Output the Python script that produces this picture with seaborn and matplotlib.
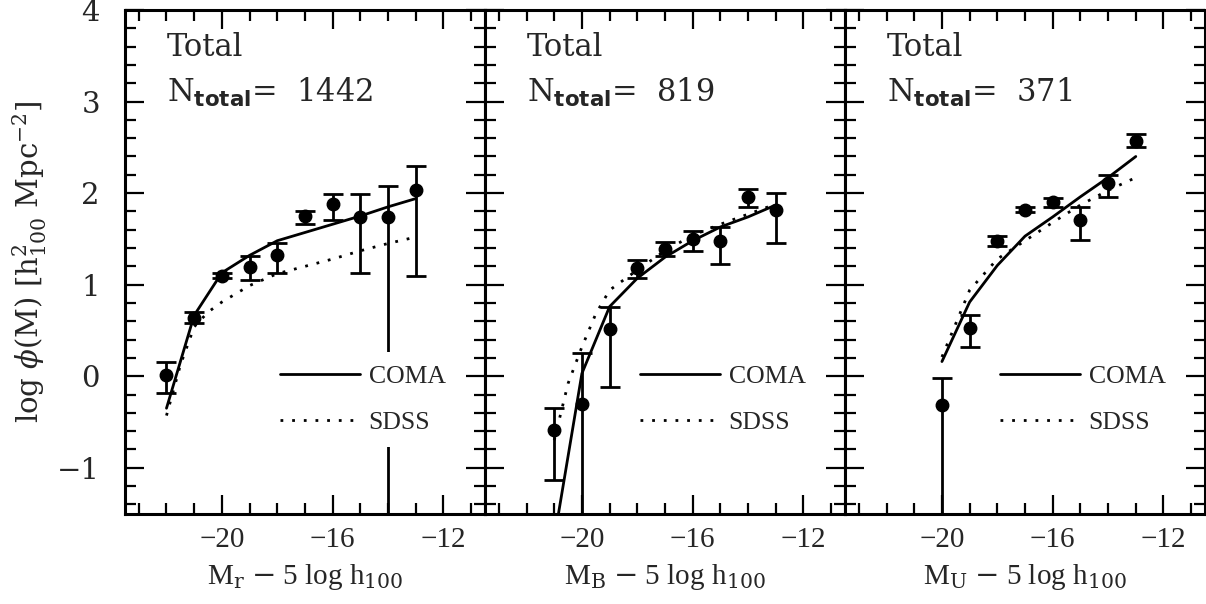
import numpy as np
import pandas as pd
import matplotlib
matplotlib.use("Agg")
import matplotlib.pyplot as plt
from matplotlib.ticker import MultipleLocator
import seaborn as sns

# --- data ---
# r band
mag_r = [-22, -21, -20, -19, -18, -17, -16, -15, -14, -13]
phi_r = [0.01, 0.64, 1.10, 1.19, 1.32, 1.745, 1.876, 1.74, 1.74, 2.03]
hi_r = [0.15, 0.70, 1.13, 1.31, 1.45, 1.81, 1.99, 1.99, 2.08, 2.30]
lo_r = [-0.18, 0.58, 1.07, 1.05, 1.13, 1.66, 1.71, 1.13, -3.0, 1.10]
coma_x_r = [-22, -21, -20, -19, -18, -17, -16, -15, -14, -13]
coma_r = [-0.35, 0.665, 1.13, 1.32, 1.48, 1.57, 1.66, 1.75, 1.85, 1.94]
sdss_x_r = [-22, -21.5, -21, -20.5, -20, -19, -18, -17, -16, -15, -14, -13]
sdss_r = [-0.43, 0.12, 0.54, 0.70, 0.81, 0.99, 1.12, 1.20, 1.28, 1.37, 1.45, 1.52]

# B band
mag_b = [-21, -20, -19, -18, -17, -16, -15, -14, -13]
phi_b = [-0.59, -0.30, 0.52, 1.18, 1.39, 1.50, 1.48, 1.96, 1.82]
hi_b = [-0.35, 0.25, 0.76, 1.27, 1.47, 1.59, 1.63, 2.05, 2.00]
lo_b = [-1.13, -3.0, -0.12, 1.07, 1.31, 1.37, 1.23, 1.85, 1.45]
coma_x_b = [-21, -20, -19, -18, -17, -16, -15, -14, -13]
coma_b = [-1.78, 0.03, 0.76, 1.07, 1.30, 1.48, 1.63, 1.74, 1.87]
sdss_x_b = [-21, -20.5, -20, -19.5, -19, -18, -17, -16, -15, -14, -13]
sdss_b = [-0.70, -0.08, 0.32, 0.68, 0.94, 1.16, 1.37, 1.54, 1.66, 1.77, 1.88]

# U band
mag_u = [-20, -19, -18, -17, -16, -15, -14, -13]
phi_u = [-0.32, 0.53, 1.48, 1.82, 1.90, 1.71, 2.11, 2.57]
hi_u = [-0.02, 0.67, 1.53, 1.85, 1.95, 1.85, 2.20, 2.65]
lo_u = [-3.0, 0.32, 1.42, 1.79, 1.85, 1.49, 1.96, 2.50]
coma_x_u = [-20, -19, -18, -17, -16, -15, -14, -13]
coma_u = [0.16, 0.81, 1.21, 1.53, 1.74, 1.96, 2.17, 2.40]
sdss_x_u = [-20, -19, -18, -17, -16, -15, -14, -13]
sdss_u = [0.21, 0.94, 1.28, 1.48, 1.68, 1.87, 2.03, 2.17]

n_total = [1442, 819, 371]
band_labels = ["r", "B", "U"]

panels = [
    (mag_r, phi_r, lo_r, hi_r, coma_x_r, coma_r, sdss_x_r, sdss_r),
    (mag_b, phi_b, lo_b, hi_b, coma_x_b, coma_b, sdss_x_b, sdss_b),
    (mag_u, phi_u, lo_u, hi_u, coma_x_u, coma_u, sdss_x_u, sdss_u),
]

sns.set_theme(style="ticks")
plt.rcParams['font.family'] = ['DejaVu Serif']
plt.rcParams['mathtext.fontset'] = 'custom'
plt.rcParams['mathtext.rm'] = 'DejaVu Serif'
plt.rcParams['mathtext.it'] = 'DejaVu Serif:italic'
plt.rcParams['mathtext.bf'] = 'DejaVu Sans:bold'
plt.rcParams['axes.linewidth'] = 2.2

fig, axes = plt.subplots(1, 3, figsize=(12.06, 6.04), dpi=100, sharey=True)
fig.subplots_adjust(left=0.1036, right=0.9992, bottom=0.1498, top=0.9834, wspace=0)

dotted = (0, (1.0, 3.2))

for i, ax in enumerate(axes):
    mag, phi, lo, hi, cx, cy, sx, sy = panels[i]
    df_c = pd.DataFrame({"mag": cx, "phi": cy})
    df_s = pd.DataFrame({"mag": sx, "phi": sy})
    sns.lineplot(data=df_c, x="mag", y="phi", ax=ax, color="black", lw=2.0,
                 label="COMA", sort=False)
    sns.lineplot(data=df_s, x="mag", y="phi", ax=ax, color="black", lw=2.0,
                 label="SDSS", sort=False, linestyle=dotted)
    phi = np.array(phi)
    yerr = [phi - np.array(lo), np.array(hi) - phi]
    ax.errorbar(mag, phi, yerr=yerr, fmt='o', color='black', ms=9,
                elinewidth=2.0, capsize=7, capthick=2.0, zorder=3)

    ax.set_xlim(-23.5, -10.5)
    ax.set_ylim(-1.5, 4)
    ax.xaxis.set_major_locator(MultipleLocator(4))
    ax.xaxis.set_minor_locator(MultipleLocator(1))
    ax.yaxis.set_major_locator(MultipleLocator(1))
    ax.yaxis.set_minor_locator(MultipleLocator(0.2))
    ax.tick_params(which='both', direction='in', top=True, right=True,
                   width=1.6, color='black')
    ax.tick_params(which='major', length=14)
    ax.tick_params(which='minor', length=8)
    ax.tick_params(axis='x', which='major', pad=10, labelsize=21)
    ax.tick_params(axis='y', which='major', pad=18, labelsize=21)
    for lab in ax.get_xticklabels():
        lab.set_family('Liberation Serif')
    for s in ax.spines.values():
        s.set_color('black')

    ax.set_xlabel(r"M$_{\rm %s}$ $-$ 5 log h$_{100}$" % band_labels[i],
                  fontsize=21, family='Liberation Serif', labelpad=6)
    ax.set_ylabel("")

    ax.text(0.117, 0.9086, "Total", transform=ax.transAxes, fontsize=22,
            va='baseline', ha='left')
    ax.text(0.117, 0.8179, r"N$_{\mathbf{total}}$=  %d" % n_total[i],
            transform=ax.transAxes, fontsize=22, va='baseline', ha='left')

    leg = ax.legend(loc='center left', bbox_to_anchor=(0.395, 0.226),
                    frameon=True, handlelength=3.1, handletextpad=0.35,
                    labelspacing=0.9, borderpad=0.5, borderaxespad=0,
                    prop={'family': 'Liberation Serif', 'size': 18.5})
    leg.get_frame().set_facecolor('white')
    leg.get_frame().set_edgecolor('none')
    leg.get_frame().set_alpha(1)

axes[0].set_ylabel(r"log $\phi$(M) [h$^2_{100}$ Mpc$^{-2}$]", fontsize=21,
                   labelpad=6)

fig.savefig("out.png", dpi=100)
